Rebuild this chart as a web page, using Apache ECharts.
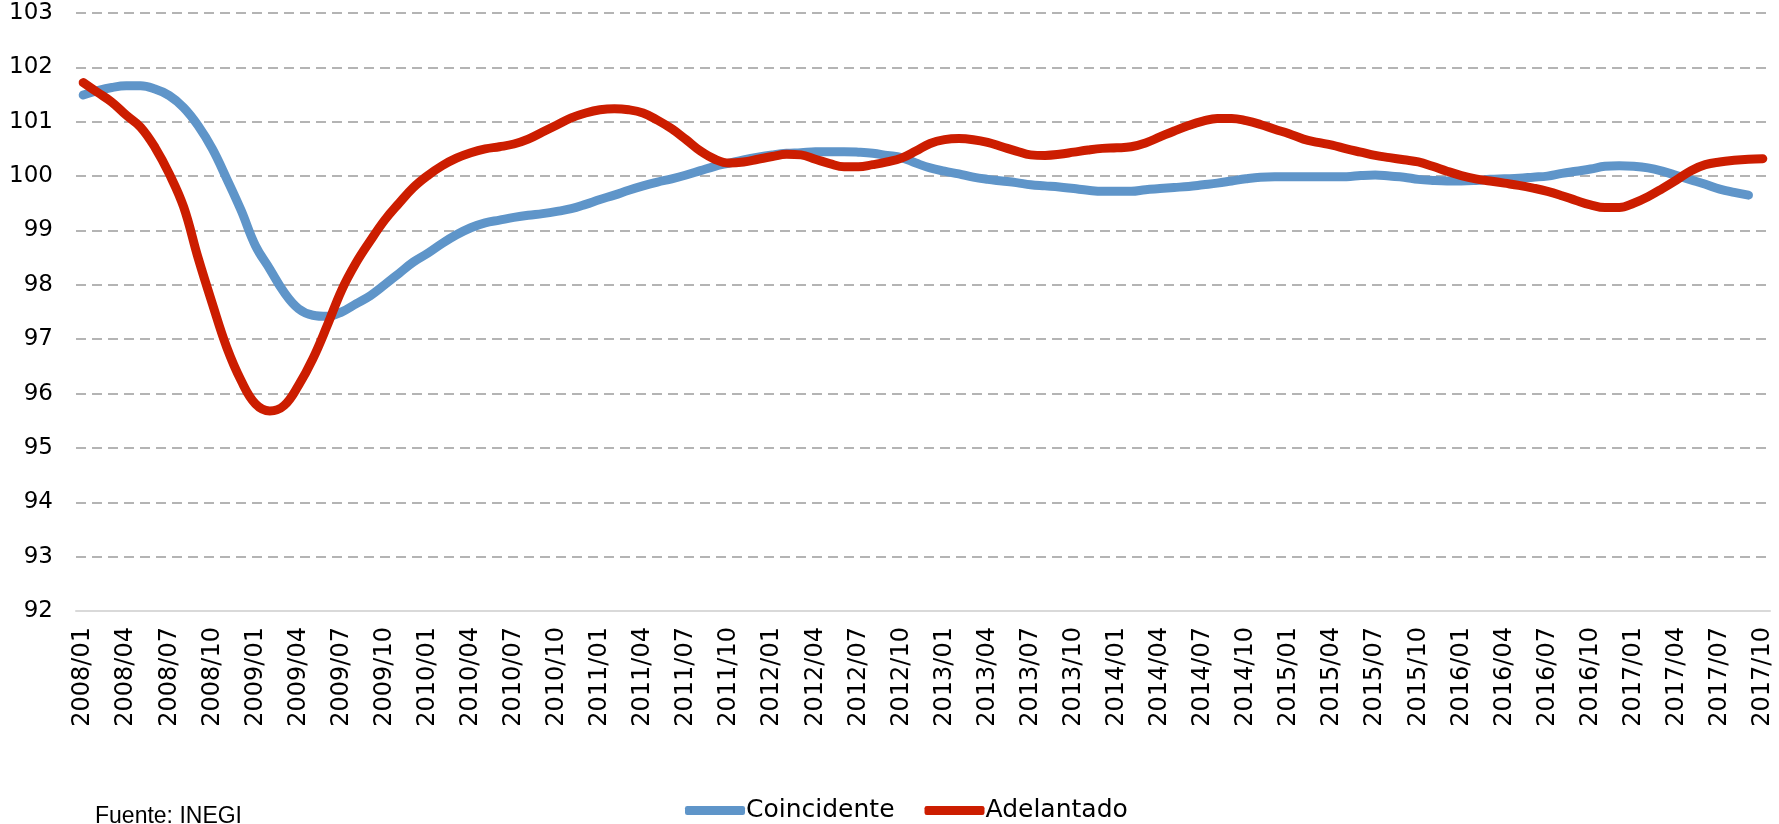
<!DOCTYPE html>
<html>
<head>
<meta charset="utf-8">
<title>Indicadores compuestos</title>
<script src="https://cdn.jsdelivr.net/npm/echarts@6/dist/echarts.min.js"></script>
<style>
  html, body { margin: 0; padding: 0; background: #ffffff; }
  #chart { width: 1779px; height: 824px; }
</style>
</head>
<body>
<div id="chart"></div>
<script>
// Monthly categories, 2008/01 through 2017/10
const startYear = 2008;
const monthCount = 118;
const categories = [];
for (let k = 0; k < monthCount; k++) {
  const y = startYear + Math.floor(k / 12);
  const m = (k % 12) + 1;
  categories.push(y + '/' + (m < 10 ? '0' + m : '' + m));
}

// Y axis range
const yMin = 92;
const yMax = 103;
const yStep = 1;

// Indicador coincidente (ends 2017/09)
const coincidente = [
  101.49, 101.57, 101.63, 101.66, 101.66, 101.60, 101.48, 101.26, 100.93, 100.50, 99.95, 99.37,
  98.72, 98.29, 97.86, 97.56, 97.44, 97.42, 97.50, 97.65, 97.80, 98.00, 98.21, 98.42,
  98.58, 98.76, 98.92, 99.05, 99.14, 99.19, 99.24, 99.28, 99.31, 99.35, 99.40, 99.48,
  99.57, 99.65, 99.74, 99.82, 99.89, 99.95, 100.02, 100.10, 100.18, 100.24, 100.30, 100.35,
  100.39, 100.42, 100.43, 100.45, 100.45, 100.45, 100.44, 100.42, 100.38, 100.34, 100.24, 100.15,
  100.09, 100.04, 99.98, 99.94, 99.91, 99.88, 99.84, 99.82, 99.80, 99.77, 99.74, 99.72,
  99.72, 99.72, 99.75, 99.77, 99.79, 99.81, 99.84, 99.87, 99.91, 99.95, 99.98, 99.99,
  99.99, 99.99, 99.99, 99.99, 99.99, 100.01, 100.02, 100.00, 99.98, 99.94, 99.92, 99.91,
  99.91, 99.92, 99.94, 99.95, 99.96, 99.98, 100.00, 100.05, 100.09, 100.13, 100.18, 100.19,
  100.18, 100.15, 100.09, 100.01, 99.93, 99.85, 99.76, 99.70, 99.65
];

// Indicador adelantado (ends 2017/10)
const adelantado = [
  101.72, 101.54, 101.36, 101.12, 100.90, 100.53, 100.04, 99.43, 98.50, 97.65, 96.85, 96.24,
  95.81, 95.68, 95.78, 96.15, 96.64, 97.25, 97.90, 98.40, 98.81, 99.19, 99.50, 99.79,
  100.01, 100.19, 100.33, 100.43, 100.50, 100.54, 100.59, 100.68, 100.81, 100.94, 101.07, 101.16,
  101.22, 101.24, 101.22, 101.16, 101.03, 100.87, 100.67, 100.46, 100.31, 100.24, 100.26, 100.31,
  100.36, 100.40, 100.39, 100.31, 100.23, 100.17, 100.17, 100.21, 100.26, 100.33, 100.46, 100.60,
  100.67, 100.69, 100.67, 100.62, 100.54, 100.46, 100.39, 100.38, 100.40, 100.44, 100.48, 100.51,
  100.52, 100.54, 100.61, 100.72, 100.83, 100.93, 101.01, 101.06, 101.06, 101.02, 100.95, 100.86,
  100.78, 100.68, 100.62, 100.57, 100.50, 100.44, 100.38, 100.34, 100.30, 100.26, 100.18, 100.09,
  100.01, 99.95, 99.91, 99.87, 99.83, 99.78, 99.72, 99.64, 99.55, 99.47, 99.42, 99.42,
  99.50, 99.62, 99.77, 99.93, 100.10, 100.21, 100.26, 100.29, 100.31, 100.32
];

const seriesNames = ['Coincidente', 'Adelantado'];
const sourceNote = 'Fuente: INEGI';

const FONT = 'DejaVu Sans';
const chart = echarts.init(document.getElementById('chart'), null, { renderer: 'canvas' });

chart.setOption({
  animation: false,
  backgroundColor: '#ffffff',
  grid: { left: 76, right: 9, top: 13, bottom: 213, containLabel: false },
  legend: {
    left: 680,
    top: 793,
    itemWidth: 60,
    itemHeight: 9,
    itemGap: 30,
    icon: 'roundRect',
    textStyle: { color: '#000000', fontSize: 25, fontFamily: FONT, padding: [0, 0, 0, -4] },
    data: seriesNames
  },
  xAxis: {
    type: 'category',
    data: categories,
    boundaryGap: true,
    axisLine: { show: true, lineStyle: { color: '#d9d9d9', width: 2 } },
    axisTick: { show: false },
    axisLabel: {
      interval: 2,
      rotate: 90,
      margin: 16,
      color: '#000000',
      fontSize: 24,
      fontFamily: FONT
    },
    splitLine: { show: false }
  },
  yAxis: {
    type: 'value',
    min: yMin,
    max: yMax,
    interval: yStep,
    axisLine: { show: false },
    axisTick: { show: false },
    axisLabel: { margin: 23, color: '#000000', fontSize: 23, fontFamily: FONT },
    splitLine: { show: true, lineStyle: { color: '#b4b4b4', width: 2, type: [10, 6] } }
  },
  series: [
    {
      name: seriesNames[0],
      type: 'line',
      data: coincidente,
      smooth: 0.4,
      showSymbol: false,
      symbol: 'none',
      itemStyle: { color: '#5f95c9' },
      lineStyle: { color: '#5f95c9', width: 9, cap: 'round', join: 'round' }
    },
    {
      name: seriesNames[1],
      type: 'line',
      data: adelantado,
      smooth: 0.4,
      showSymbol: false,
      symbol: 'none',
      itemStyle: { color: '#cc1d00' },
      lineStyle: { color: '#cc1d00', width: 9, cap: 'round', join: 'round' }
    }
  ],
  graphic: [
    {
      type: 'text',
      left: 95,
      top: 805,
      style: { text: sourceNote, fill: '#000000', fontSize: 23, fontFamily: 'Liberation Sans' }
    }
  ]
});
</script>
</body>
</html>
